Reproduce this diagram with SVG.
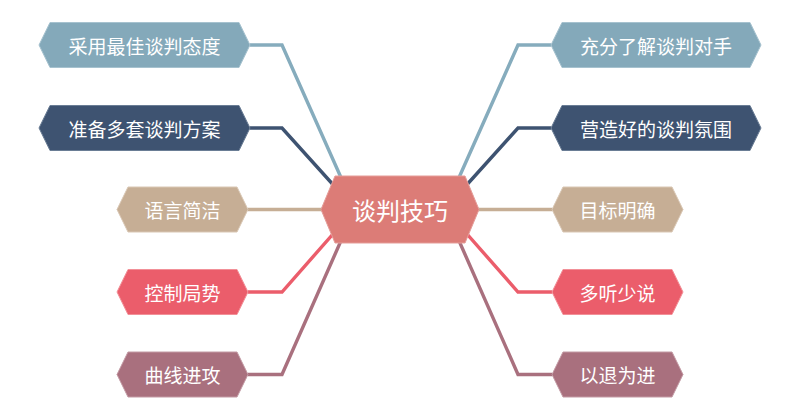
<svg xmlns="http://www.w3.org/2000/svg" width="800" height="419" viewBox="0 0 800 419">
<style>
.t{font-family:"Noto Sans CJK SC","Liberation Sans",sans-serif;fill:#fff;text-anchor:middle;dominant-baseline:central}
.leaf{font-size:19px}
.root{font-size:24px}
.c{fill:none;stroke-width:3.4;stroke-linejoin:miter}
.lb{fill:#84A9BA;stroke:#A6C2CF}
.db{fill:#3E5371;stroke:#6A7D95}
.bg{fill:#C6AE95;stroke:#D9C7B4}
.rd{fill:#EB5D6B;stroke:#F29098}
.mv{fill:#A9707E;stroke:#C39AA4}
.n{stroke-width:1}
</style>
<rect width="800" height="419" fill="#fff"/>
<g id="connectors">
<polyline class="c" stroke="#86ACBD" points="250,45 282,45 355,209"/>
<polyline class="c" stroke="#3E5371" points="250,128 282,128 355,209"/>
<polyline class="c" stroke="#C6AE95" points="248,209.5 355,209.5"/>
<polyline class="c" stroke="#EB5D6B" points="248,292 282,292 355,209"/>
<polyline class="c" stroke="#A9707E" points="248,374.5 282,374.5 355,209"/>
<polyline class="c" stroke="#86ACBD" points="551,45 518,45 445,209"/>
<polyline class="c" stroke="#3E5371" points="551,128 518,128 445,209"/>
<polyline class="c" stroke="#C6AE95" points="552,209.5 445,209.5"/>
<polyline class="c" stroke="#EB5D6B" points="552,292 518,292 445,209"/>
<polyline class="c" stroke="#A9707E" points="552,374.5 518,374.5 445,209"/>
</g>
<g id="root">
<polygon points="321,209.5 335,176 465,176 479,209.5 465,243 335,243" fill="#DC7C77" stroke="#E59D99" stroke-width="1"/>
<text class="t root" x="400" y="209.5">谈判技巧</text>
</g>
<g id="n1">
<polygon class="n lb" points="39,45 50,22.5 239,22.5 250,45 239,67.5 50,67.5"/>
<text class="t leaf" x="144.5" y="45">采用最佳谈判态度</text>
</g>
<g id="n2">
<polygon class="n db" points="39,128 50,105.5 239,105.5 250,128 239,150.5 50,150.5"/>
<text class="t leaf" x="144.5" y="128">准备多套谈判方案</text>
</g>
<g id="n3">
<polygon class="n bg" points="117,209.5 128,187 237,187 248,209.5 237,232 128,232"/>
<text class="t leaf" x="182.5" y="209.5">语言简洁</text>
</g>
<g id="n4">
<polygon class="n rd" points="117,292 128,269.5 237,269.5 248,292 237,314.5 128,314.5"/>
<text class="t leaf" x="182.5" y="292">控制局势</text>
</g>
<g id="n5">
<polygon class="n mv" points="117,374.5 128,352 237,352 248,374.5 237,397 128,397"/>
<text class="t leaf" x="182.5" y="374.5">曲线进攻</text>
</g>
<g id="n6">
<polygon class="n lb" points="551,45 562,22.5 750,22.5 761,45 750,67.5 562,67.5"/>
<text class="t leaf" x="656" y="45">充分了解谈判对手</text>
</g>
<g id="n7">
<polygon class="n db" points="551,128 562,105.5 750,105.5 761,128 750,150.5 562,150.5"/>
<text class="t leaf" x="656" y="128">营造好的谈判氛围</text>
</g>
<g id="n8">
<polygon class="n bg" points="552,209.5 563,187 672,187 683,209.5 672,232 563,232"/>
<text class="t leaf" x="617.5" y="209.5">目标明确</text>
</g>
<g id="n9">
<polygon class="n rd" points="552,292 563,269.5 672,269.5 683,292 672,314.5 563,314.5"/>
<text class="t leaf" x="617.5" y="292">多听少说</text>
</g>
<g id="n10">
<polygon class="n mv" points="552,374.5 563,352 672,352 683,374.5 672,397 563,397"/>
<text class="t leaf" x="617.5" y="374.5">以退为进</text>
</g>
</svg>
